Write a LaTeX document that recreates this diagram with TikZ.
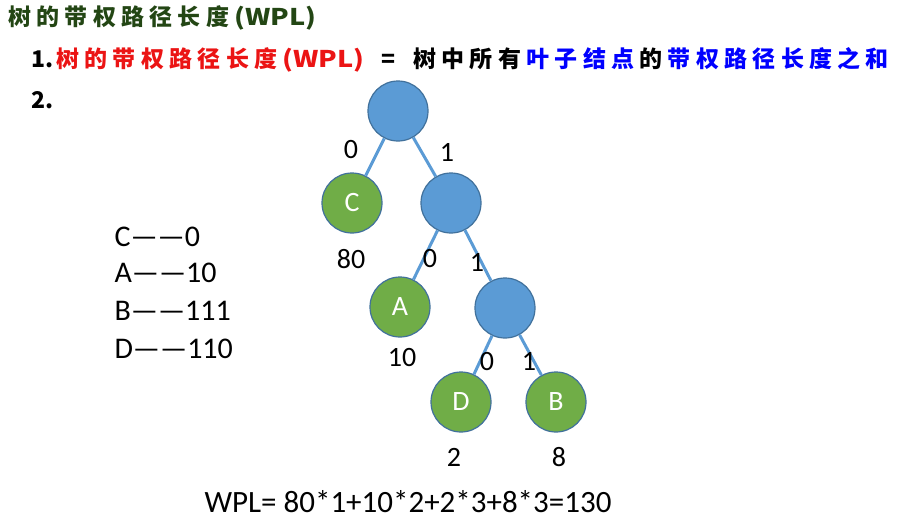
\documentclass[tikz,border=0pt]{standalone}
\usepackage{fontspec}
\setmainfont{Carlito}
\newfontfamily\cjk{Noto Sans CJK SC}
\newfontfamily\cjkwide{Noto Sans CJK SC}[LetterSpace=23]
\usetikzlibrary{positioning}
\definecolor{nodeblue}{HTML}{5B9BD5}
\definecolor{nodegreen}{HTML}{70AD47}
\definecolor{rimblue}{HTML}{41719C}
\definecolor{titlegreen}{RGB}{35,70,20}
\definecolor{keyred}{RGB}{235,20,20}
\definecolor{keyblue}{RGB}{0,0,255}
\newcommand{\wplword}{\scalebox{1.18}[1]{\cjk (WPL)}}
\tikzset{
  inner/.style={circle,draw=rimblue,line width=1.2pt,fill=nodeblue,
    minimum size=60pt,inner sep=0pt},
  leaf/.style={inner,fill=nodegreen,text=white,font=\fontsize{28}{30}\selectfont},
  branch/.style={nodeblue,line width=3pt},
  lbl/.style={font=\fontsize{28}{30}\selectfont},
  codeline/.style={anchor=west,font=\fontsize{30}{32}\selectfont},
  head/.style={anchor=west,inner sep=0pt,font=\bfseries\fontsize{23}{26}\selectfont}
}

\begin{document}
\begin{tikzpicture}[x=1pt,y=-1pt]
    \useasboundingbox (0,0) rectangle (906,530);

    % heading and definition
    \node[head,text=titlegreen] (title) at (8,18) {{\cjkwide 树的带权路径长度}\kern5pt\wplword};
    \node[head] (def) at (31,60)
        {{\cjk 1.}\kern3pt{\color{keyred}{\cjkwide 树的带权路径长度}\kern5pt\wplword}\hspace{17pt}{\cjk =}\hspace{18pt}{\cjkwide 树中所有}\kern5.3pt{\color{keyblue}\cjkwide 叶子结点}\kern5.3pt{\cjkwide 的}\kern5.3pt{\color{keyblue}\cjkwide 带权路径长度之和}};
    \node[head] (two) at (31,100) {\cjk 2.};

    % the tree
    \node[inner] (root) at (398,111) {};
    \node[leaf]  (C)    at (352,203) {C};
    \node[inner] (n1)   at (451,203) {};
    \node[leaf]  (A)    at (400,307) {A};
    \node[inner] (n2)   at (505,308) {};
    \node[leaf]  (D)    at (461,402) {D};
    \node[leaf]  (B)    at (556,402) {B};

    \draw[branch] (root) -- (C);
    \draw[branch] (root) -- (n1);
    \draw[branch] (n1) -- (A);
    \draw[branch] (n1) -- (n2);
    \draw[branch] (n2) -- (D);
    \draw[branch] (n2) -- (B);

    % bits on the branches
    \node[lbl] (b1) at (351,150) {0};
    \node[lbl] (b2) at (447,152) {1};
    \node[lbl] (b3) at (430,259) {0};
    \node[lbl] (b4) at (477,262) {1};
    \node[lbl] (b5) at (487,362) {0};
    \node[lbl] (b6) at (529,361) {1};

    % weights
    \node[lbl] (wC) at (351,259) {80};
    \node[lbl] (wA) at (402,358) {10};
    \node[lbl] (wD) at (454,457) {2};
    \node[lbl] (wB) at (559,457) {8};

    % codes
    \node[codeline] (cC) at (111,237) {C——0};
    \node[codeline] (cA) at (111,273) {A——10};
    \node[codeline] (cB) at (111,311) {B——111};
    \node[codeline] (cD) at (111,349) {D——110};

    \node[lbl,font=\fontsize{31}{33}\selectfont] (wpl) at (408,502) {WPL= 80*1+10*2+2*3+8*3=130};
\end{tikzpicture}
\end{document}
